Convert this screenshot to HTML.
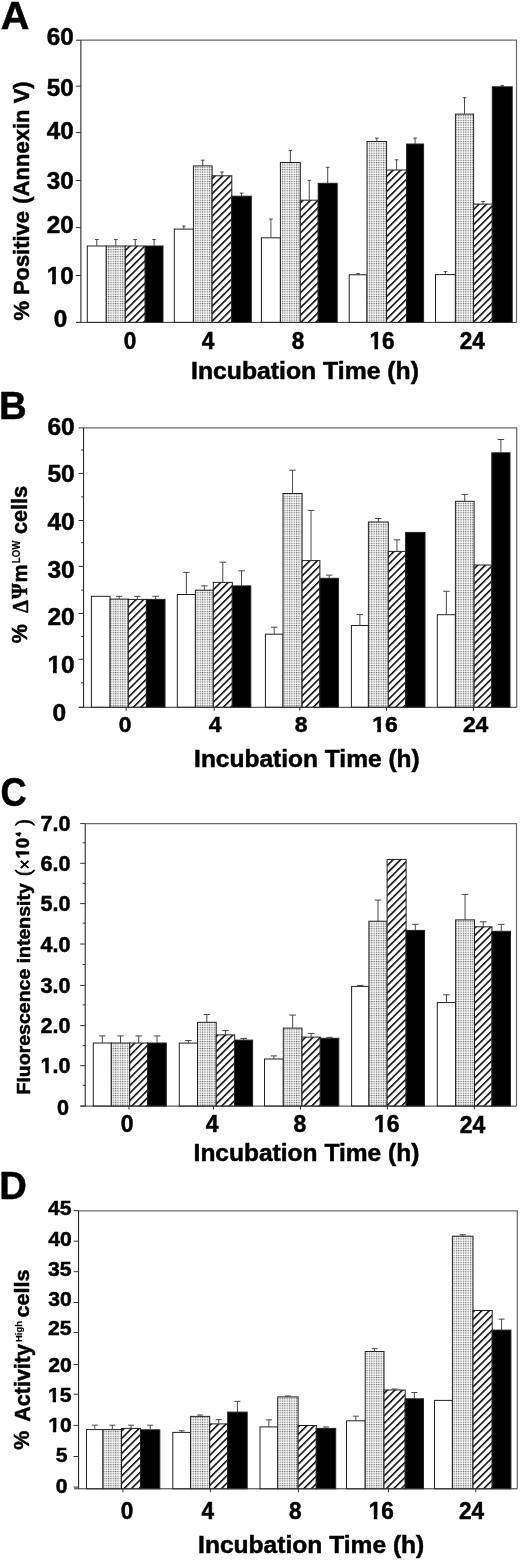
<!DOCTYPE html>
<html><head><meta charset="utf-8"><title>Figure</title><style>
html,body{margin:0;padding:0;background:#fff;}
body{width:520px;height:1560px;overflow:hidden;}
svg{display:block;filter:blur(0.45px);}
text{font-family:"Liberation Sans", sans-serif;font-weight:bold;fill:#000;stroke:#000;stroke-width:0.5px;}
.bar{stroke:#222;stroke-width:1;}
.err{stroke:#404040;stroke-width:0.95;fill:none;}
.ax{stroke:#333;stroke-width:1;fill:none;}
.axl{stroke:#151515;stroke-width:1;fill:none;}
.fr{stroke:#6a6a6a;stroke-width:1.2;fill:none;}
</style></head><body>
<svg width="520" height="1560" viewBox="0 0 520 1560">
<defs>
<pattern id="dots" patternUnits="userSpaceOnUse" width="2.35" height="2.35">
<rect width="2.35" height="2.35" fill="#ffffff"/>
<rect width="2.35" height="1" fill="#dedede"/>
<rect width="1" height="2.35" fill="#dedede"/>
<rect width="1" height="1" fill="#666666"/>
</pattern>
<pattern id="hatch" patternUnits="userSpaceOnUse" width="5.3" height="5.3" patternTransform="rotate(-45)">
<rect width="5.3" height="5.3" fill="#fff"/>
<rect width="5.3" height="1.5" fill="#000"/>
</pattern>
</defs>
<rect x="87.3" y="246" width="19" height="76.4" fill="#fff" class="bar"/>
<path d="M96.8 246V239.5M95 239.5H98.6" class="err"/>
<rect x="106.3" y="246" width="19" height="76.4" fill="url(#dots)" class="bar"/>
<path d="M115.8 246V239.5M114 239.5H117.6" class="err"/>
<rect x="125.3" y="246" width="19.9" height="76.4" fill="url(#hatch)" class="bar"/>
<path d="M135.25 246V239.5M133.45 239.5H137.05" class="err"/>
<rect x="145.2" y="246" width="17.8" height="76.4" fill="#000" class="bar"/>
<path d="M154.1 246V239.5M152.3 239.5H155.9" class="err"/>
<rect x="174.3" y="229.1" width="19.1" height="93.3" fill="#fff" class="bar"/>
<path d="M183.85 229.1V226M182.05 226H185.65" class="err"/>
<rect x="193.4" y="165.9" width="18.7" height="156.5" fill="url(#dots)" class="bar"/>
<path d="M202.75 165.9V160.2M200.95 160.2H204.55" class="err"/>
<rect x="212.1" y="175.8" width="19.7" height="146.6" fill="url(#hatch)" class="bar"/>
<path d="M221.95 175.8V172M220.15 172H223.75" class="err"/>
<rect x="231.8" y="196.2" width="19.5" height="126.2" fill="#000" class="bar"/>
<path d="M241.55 196.2V193.1M239.75 193.1H243.35" class="err"/>
<rect x="261.4" y="237.8" width="19" height="84.6" fill="#fff" class="bar"/>
<path d="M270.9 237.8V219.1M269.1 219.1H272.7" class="err"/>
<rect x="280.4" y="162.5" width="19.9" height="159.9" fill="url(#dots)" class="bar"/>
<path d="M290.35 162.5V150.4M288.55 150.4H292.15" class="err"/>
<rect x="300.3" y="200.2" width="17.9" height="122.2" fill="url(#hatch)" class="bar"/>
<path d="M309.25 200.2V180.3M307.45 180.3H311.05" class="err"/>
<rect x="318.2" y="183.3" width="19" height="139.1" fill="#000" class="bar"/>
<path d="M327.7 183.3V167.3M325.9 167.3H329.5" class="err"/>
<rect x="349.2" y="274.8" width="17.8" height="47.6" fill="#fff" class="bar"/>
<path d="M358.1 274.8V273.6M356.3 273.6H359.9" class="err"/>
<rect x="367" y="141.5" width="19.6" height="180.9" fill="url(#dots)" class="bar"/>
<path d="M376.8 141.5V138.1M375 138.1H378.6" class="err"/>
<rect x="386.6" y="170" width="20" height="152.4" fill="url(#hatch)" class="bar"/>
<path d="M396.6 170V159.8M394.8 159.8H398.4" class="err"/>
<rect x="406.6" y="144" width="17" height="178.4" fill="#000" class="bar"/>
<path d="M415.1 144V138.1M413.3 138.1H416.9" class="err"/>
<rect x="435.5" y="274.6" width="19.9" height="47.8" fill="#fff" class="bar"/>
<path d="M445.45 274.6V271.6M443.65 271.6H447.25" class="err"/>
<rect x="455.4" y="114.1" width="18.2" height="208.3" fill="url(#dots)" class="bar"/>
<path d="M464.5 114.1V97.7M462.7 97.7H466.3" class="err"/>
<rect x="473.6" y="204.1" width="18.7" height="118.3" fill="url(#hatch)" class="bar"/>
<path d="M482.95 204.1V201.5M481.15 201.5H484.75" class="err"/>
<rect x="492.3" y="86.8" width="19.9" height="235.6" fill="#000" class="bar"/>
<path d="M502.25 86.8V85.6M500.45 85.6H504.05" class="err"/>
<path d="M80.9 40.2H516.5V322.4" class="fr"/>
<path d="M80.9 322.4V40.2" class="axl"/>
<path d="M76.4 322.4H516.5" class="ax"/>
<path d="M75.9 322.4H80.9" class="ax"/>
<path d="M75.9 275.5H80.9" class="ax"/>
<path d="M75.9 227.6H80.9" class="ax"/>
<path d="M75.9 180.5H80.9" class="ax"/>
<path d="M75.9 132.6H80.9" class="ax"/>
<path d="M75.9 86.2H80.9" class="ax"/>
<path d="M75.9 40.2H80.9" class="ax"/>
<rect x="91.4" y="596.3" width="18.7" height="111" fill="#fff" class="bar"/>
<rect x="110.1" y="599.1" width="18.2" height="108.2" fill="url(#dots)" class="bar"/>
<path d="M119.2 599.1V596.3M115.95 596.3H122.45" class="err"/>
<rect x="128.3" y="599.4" width="18.1" height="107.9" fill="url(#hatch)" class="bar"/>
<path d="M137.35 599.4V596.3M134.1 596.3H140.6" class="err"/>
<rect x="146.4" y="599.4" width="18.6" height="107.9" fill="#000" class="bar"/>
<path d="M155.7 599.4V596.3M152.45 596.3H158.95" class="err"/>
<rect x="177.3" y="594.5" width="18.1" height="112.8" fill="#fff" class="bar"/>
<path d="M186.35 594.5V572.4M183.1 572.4H189.6" class="err"/>
<rect x="195.4" y="590.2" width="17.9" height="117.1" fill="url(#dots)" class="bar"/>
<path d="M204.35 590.2V585.9M201.1 585.9H207.6" class="err"/>
<rect x="213.3" y="582.4" width="19" height="124.9" fill="url(#hatch)" class="bar"/>
<path d="M222.8 582.4V562.2M219.55 562.2H226.05" class="err"/>
<rect x="232.3" y="585.9" width="18.5" height="121.4" fill="#000" class="bar"/>
<path d="M241.55 585.9V570.8M238.3 570.8H244.8" class="err"/>
<rect x="265.4" y="634.2" width="17.6" height="73.1" fill="#fff" class="bar"/>
<path d="M274.2 634.2V627.2M270.95 627.2H277.45" class="err"/>
<rect x="283" y="493.5" width="19.1" height="213.8" fill="url(#dots)" class="bar"/>
<path d="M292.55 493.5V470.2M289.3 470.2H295.8" class="err"/>
<rect x="302.1" y="560.6" width="17.8" height="146.7" fill="url(#hatch)" class="bar"/>
<path d="M311 560.6V510.4M307.75 510.4H314.25" class="err"/>
<rect x="319.9" y="578.3" width="18.5" height="129" fill="#000" class="bar"/>
<path d="M329.15 578.3V575.1M325.9 575.1H332.4" class="err"/>
<rect x="351.4" y="625.5" width="17" height="81.8" fill="#fff" class="bar"/>
<path d="M359.9 625.5V614.6M356.65 614.6H363.15" class="err"/>
<rect x="368.4" y="522" width="19.9" height="185.3" fill="url(#dots)" class="bar"/>
<path d="M378.35 522V518.5M375.1 518.5H381.6" class="err"/>
<rect x="388.3" y="551.4" width="17.3" height="155.9" fill="url(#hatch)" class="bar"/>
<path d="M396.95 551.4V539.8M393.7 539.8H400.2" class="err"/>
<rect x="405.6" y="532.4" width="19.4" height="174.9" fill="#000" class="bar"/>
<rect x="437.3" y="614.7" width="18.1" height="92.6" fill="#fff" class="bar"/>
<path d="M446.35 614.7V591.3M443.1 591.3H449.6" class="err"/>
<rect x="455.4" y="501.3" width="18.7" height="206" fill="url(#dots)" class="bar"/>
<path d="M464.75 501.3V494.4M461.5 494.4H468" class="err"/>
<rect x="474.1" y="565" width="17.7" height="142.3" fill="url(#hatch)" class="bar"/>
<rect x="491.8" y="452.8" width="18.2" height="254.5" fill="#000" class="bar"/>
<path d="M500.9 452.8V439.5M497.65 439.5H504.15" class="err"/>
<path d="M83.6 427.9H516.7V707.3" class="fr"/>
<path d="M83.6 707.3V427.9" class="axl"/>
<path d="M79.1 707.3H516.7" class="ax"/>
<path d="M78.6 707.3H83.6" class="ax"/>
<path d="M78.6 659.3H83.6" class="ax"/>
<path d="M78.6 613.5H83.6" class="ax"/>
<path d="M78.6 566.4H83.6" class="ax"/>
<path d="M78.6 520.5H83.6" class="ax"/>
<path d="M78.6 473.4H83.6" class="ax"/>
<path d="M78.6 427.9H83.6" class="ax"/>
<path d="M81.1 682.8H83.6" class="ax"/>
<path d="M81.1 636.4H83.6" class="ax"/>
<path d="M81.1 590.1H83.6" class="ax"/>
<path d="M81.1 542.7H83.6" class="ax"/>
<path d="M81.1 496.9H83.6" class="ax"/>
<path d="M81.1 450H83.6" class="ax"/>
<path d="M126.2 707.3V710.8" class="ax"/>
<path d="M214.2 707.3V710.8" class="ax"/>
<path d="M299.8 707.3V710.8" class="ax"/>
<path d="M386.5 707.3V710.8" class="ax"/>
<path d="M473.5 707.3V710.8" class="ax"/>
<rect x="93.3" y="1043" width="18" height="63.1" fill="#fff" class="bar"/>
<path d="M102.3 1043V1035.9M99.05 1035.9H105.55" class="err"/>
<rect x="111.3" y="1043" width="18.4" height="63.1" fill="url(#dots)" class="bar"/>
<path d="M120.5 1043V1035.9M117.25 1035.9H123.75" class="err"/>
<rect x="129.7" y="1043" width="18" height="63.1" fill="url(#hatch)" class="bar"/>
<path d="M138.7 1043V1035.9M135.45 1035.9H141.95" class="err"/>
<rect x="147.7" y="1043" width="18.6" height="63.1" fill="#000" class="bar"/>
<path d="M157 1043V1035.9M153.75 1035.9H160.25" class="err"/>
<rect x="179.3" y="1043.1" width="18.2" height="63" fill="#fff" class="bar"/>
<path d="M188.4 1043.1V1040.5M185.15 1040.5H191.65" class="err"/>
<rect x="197.5" y="1022.3" width="18.7" height="83.8" fill="url(#dots)" class="bar"/>
<path d="M206.85 1022.3V1014.5M203.6 1014.5H210.1" class="err"/>
<rect x="216.2" y="1034.9" width="18.5" height="71.2" fill="url(#hatch)" class="bar"/>
<path d="M225.45 1034.9V1030.6M222.2 1030.6H228.7" class="err"/>
<rect x="234.7" y="1040.1" width="17.9" height="66" fill="#000" class="bar"/>
<path d="M243.65 1040.1V1038.4M240.4 1038.4H246.9" class="err"/>
<rect x="264.5" y="1059" width="18.8" height="47.1" fill="#fff" class="bar"/>
<path d="M273.9 1059V1055.9M270.65 1055.9H277.15" class="err"/>
<rect x="283.3" y="1028.1" width="18.7" height="78" fill="url(#dots)" class="bar"/>
<path d="M292.65 1028.1V1015.1M289.4 1015.1H295.9" class="err"/>
<rect x="302" y="1037.1" width="18.3" height="69" fill="url(#hatch)" class="bar"/>
<path d="M311.15 1037.1V1033.4M307.9 1033.4H314.4" class="err"/>
<rect x="320.3" y="1038.3" width="18.5" height="67.8" fill="#000" class="bar"/>
<path d="M329.55 1038.3V1037.3M326.3 1037.3H332.8" class="err"/>
<rect x="351.6" y="986.4" width="17.3" height="119.7" fill="#fff" class="bar"/>
<path d="M360.25 986.4V985.4M357 985.4H363.5" class="err"/>
<rect x="368.9" y="921.2" width="18.2" height="184.9" fill="url(#dots)" class="bar"/>
<path d="M378 921.2V900.1M374.75 900.1H381.25" class="err"/>
<rect x="387.1" y="859.4" width="19" height="246.7" fill="url(#hatch)" class="bar"/>
<rect x="406.1" y="930.4" width="18.4" height="175.7" fill="#000" class="bar"/>
<path d="M415.3 930.4V924.3M412.05 924.3H418.55" class="err"/>
<rect x="437.3" y="1002.6" width="18.3" height="103.5" fill="#fff" class="bar"/>
<path d="M446.45 1002.6V994.8M443.2 994.8H449.7" class="err"/>
<rect x="455.6" y="919.9" width="18.9" height="186.2" fill="url(#dots)" class="bar"/>
<path d="M465.05 919.9V894.4M461.8 894.4H468.3" class="err"/>
<rect x="474.5" y="926.8" width="17.5" height="179.3" fill="url(#hatch)" class="bar"/>
<path d="M483.25 926.8V921.8M480 921.8H486.5" class="err"/>
<rect x="492" y="931.3" width="18.5" height="174.8" fill="#000" class="bar"/>
<path d="M501.25 931.3V924.4M498 924.4H504.5" class="err"/>
<path d="M85.2 823.6H516.5V1106.1" class="fr"/>
<path d="M85.2 1106.1V823.6" class="axl"/>
<path d="M80.7 1106.1H516.5" class="ax"/>
<path d="M80.2 1106.1H85.2" class="ax"/>
<path d="M80.2 1065.7H85.2" class="ax"/>
<path d="M80.2 1025.6H85.2" class="ax"/>
<path d="M80.2 985.4H85.2" class="ax"/>
<path d="M80.2 944H85.2" class="ax"/>
<path d="M80.2 903.6H85.2" class="ax"/>
<path d="M80.2 863.3H85.2" class="ax"/>
<path d="M80.2 823.6H85.2" class="ax"/>
<path d="M82.7 1085.3H85.2" class="ax"/>
<path d="M82.7 1045.6H85.2" class="ax"/>
<path d="M82.7 1004.9H85.2" class="ax"/>
<path d="M82.7 964.5H85.2" class="ax"/>
<path d="M82.7 923.1H85.2" class="ax"/>
<path d="M82.7 883.4H85.2" class="ax"/>
<path d="M82.7 842.8H85.2" class="ax"/>
<path d="M128.9 1106.1V1109.6" class="ax"/>
<path d="M213.5 1106.1V1109.6" class="ax"/>
<path d="M300.5 1106.1V1109.6" class="ax"/>
<path d="M387.4 1106.1V1109.6" class="ax"/>
<path d="M474.3 1106.1V1109.6" class="ax"/>
<rect x="86.5" y="1429.6" width="16.5" height="59.2" fill="#fff" class="bar"/>
<path d="M94.75 1429.6V1425.2M91.75 1425.2H97.75" class="err"/>
<rect x="103" y="1429.6" width="18.5" height="59.2" fill="url(#dots)" class="bar"/>
<path d="M112.25 1429.6V1425.2M109.25 1425.2H115.25" class="err"/>
<rect x="121.5" y="1428.4" width="19.1" height="60.4" fill="url(#hatch)" class="bar"/>
<path d="M131.05 1428.4V1425.2M128.05 1425.2H134.05" class="err"/>
<rect x="140.6" y="1429.8" width="19.2" height="59" fill="#000" class="bar"/>
<path d="M150.2 1429.8V1425.2M147.2 1425.2H153.2" class="err"/>
<rect x="172.8" y="1432.4" width="17.8" height="56.4" fill="#fff" class="bar"/>
<path d="M181.7 1432.4V1430.8M178.7 1430.8H184.7" class="err"/>
<rect x="190.6" y="1416.4" width="19.1" height="72.4" fill="url(#dots)" class="bar"/>
<path d="M200.15 1416.4V1415M197.15 1415H203.15" class="err"/>
<rect x="209.7" y="1423.9" width="18" height="64.9" fill="url(#hatch)" class="bar"/>
<path d="M218.7 1423.9V1419.6M215.7 1419.6H221.7" class="err"/>
<rect x="227.7" y="1412.1" width="19.5" height="76.7" fill="#000" class="bar"/>
<path d="M237.45 1412.1V1401.4M234.45 1401.4H240.45" class="err"/>
<rect x="260" y="1426.9" width="17.7" height="61.9" fill="#fff" class="bar"/>
<path d="M268.85 1426.9V1419.8M265.85 1419.8H271.85" class="err"/>
<rect x="277.7" y="1396.9" width="20.4" height="91.9" fill="url(#dots)" class="bar"/>
<path d="M287.9 1396.9V1396M284.9 1396H290.9" class="err"/>
<rect x="298.1" y="1425.5" width="18.2" height="63.3" fill="url(#hatch)" class="bar"/>
<rect x="316.3" y="1428.4" width="19.4" height="60.4" fill="#000" class="bar"/>
<path d="M326 1428.4V1427M323 1427H329" class="err"/>
<rect x="346.5" y="1420.8" width="18.7" height="68" fill="#fff" class="bar"/>
<path d="M355.85 1420.8V1416.2M352.85 1416.2H358.85" class="err"/>
<rect x="365.2" y="1351.5" width="18.8" height="137.3" fill="url(#dots)" class="bar"/>
<path d="M374.6 1351.5V1348.7M371.6 1348.7H377.6" class="err"/>
<rect x="384" y="1390" width="21.2" height="98.8" fill="url(#hatch)" class="bar"/>
<path d="M394.6 1390V1389M391.6 1389H397.6" class="err"/>
<rect x="405.2" y="1398.8" width="18.3" height="90" fill="#000" class="bar"/>
<path d="M414.35 1398.8V1392.5M411.35 1392.5H417.35" class="err"/>
<rect x="434.5" y="1400.4" width="17.9" height="88.4" fill="#fff" class="bar"/>
<rect x="452.4" y="1236.2" width="20.6" height="252.6" fill="url(#dots)" class="bar"/>
<path d="M462.7 1236.2V1234.7M459.7 1234.7H465.7" class="err"/>
<rect x="473" y="1310.5" width="19.2" height="178.3" fill="url(#hatch)" class="bar"/>
<rect x="492.2" y="1330.1" width="18.7" height="158.7" fill="#000" class="bar"/>
<path d="M501.55 1330.1V1319.1M498.55 1319.1H504.55" class="err"/>
<path d="M78.6 1210.8H517.3V1488.8" class="fr"/>
<path d="M78.6 1488.8V1210.8" class="axl"/>
<path d="M74.1 1488.8H517.3" class="ax"/>
<path d="M73.6 1487.1H78.6" class="ax"/>
<path d="M73.6 1456.5H78.6" class="ax"/>
<path d="M73.6 1425.4H78.6" class="ax"/>
<path d="M73.6 1394.2H78.6" class="ax"/>
<path d="M73.6 1364.5H78.6" class="ax"/>
<path d="M73.6 1332.5H78.6" class="ax"/>
<path d="M73.6 1302.5H78.6" class="ax"/>
<path d="M73.6 1271.7H78.6" class="ax"/>
<path d="M73.6 1241.2H78.6" class="ax"/>
<path d="M73.6 1210.6H78.6" class="ax"/>
<path d="M122.9 1488.8V1492.3" class="ax"/>
<path d="M210.4 1488.8V1492.3" class="ax"/>
<path d="M298.5 1488.8V1492.3" class="ax"/>
<path d="M388.5 1488.8V1492.3" class="ax"/>
<path d="M475.8 1488.8V1492.3" class="ax"/>
<text x="0.71" y="29.30" style="font-size:39.71px" textLength="28.67" lengthAdjust="spacingAndGlyphs">A</text>
<text x="-0.99" y="418.70" style="font-size:39.42px" textLength="27.70" lengthAdjust="spacingAndGlyphs">B</text>
<text x="0.45" y="806.00" style="font-size:40.00px" textLength="26.22" lengthAdjust="spacingAndGlyphs">C</text>
<text x="-0.67" y="1199.10" style="font-size:39.71px" textLength="27.59" lengthAdjust="spacingAndGlyphs">D</text>
<text x="46.67" y="44.77" style="font-size:23.10px" textLength="26.95" lengthAdjust="spacingAndGlyphs">60</text>
<text x="46.67" y="95.87" style="font-size:23.10px" textLength="26.95" lengthAdjust="spacingAndGlyphs">50</text>
<text x="46.67" y="139.02" style="font-size:23.10px" textLength="26.95" lengthAdjust="spacingAndGlyphs">40</text>
<text x="46.67" y="189.42" style="font-size:23.10px" textLength="26.95" lengthAdjust="spacingAndGlyphs">30</text>
<text x="46.67" y="232.87" style="font-size:23.10px" textLength="26.95" lengthAdjust="spacingAndGlyphs">20</text>
<text x="46.67" y="283.52" style="font-size:23.10px" textLength="26.95" lengthAdjust="spacingAndGlyphs">10</text><rect x="46.51" y="279.64" width="5.56" height="5.53" fill="#fff"/><rect x="55.82" y="279.64" width="4.72" height="5.53" fill="#fff"/>
<text x="53.84" y="327.02" style="font-size:23.10px" textLength="13.48" lengthAdjust="spacingAndGlyphs">0</text>
<text x="47.46" y="435.16" style="font-size:23.52px" textLength="27.27" lengthAdjust="spacingAndGlyphs">60</text>
<text x="47.46" y="482.36" style="font-size:23.52px" textLength="27.27" lengthAdjust="spacingAndGlyphs">50</text>
<text x="47.46" y="530.46" style="font-size:23.52px" textLength="27.27" lengthAdjust="spacingAndGlyphs">40</text>
<text x="47.46" y="577.76" style="font-size:23.52px" textLength="27.27" lengthAdjust="spacingAndGlyphs">30</text>
<text x="47.46" y="625.31" style="font-size:23.52px" textLength="27.27" lengthAdjust="spacingAndGlyphs">20</text>
<text x="47.46" y="672.81" style="font-size:23.52px" textLength="27.27" lengthAdjust="spacingAndGlyphs">10</text><rect x="47.31" y="668.89" width="5.61" height="5.58" fill="#fff"/><rect x="56.71" y="668.89" width="4.77" height="5.58" fill="#fff"/>
<text x="52.46" y="720.71" style="font-size:23.52px" textLength="13.64" lengthAdjust="spacingAndGlyphs">0</text>
<text x="40.54" y="1073.34" style="font-size:21.27px" textLength="30.03" lengthAdjust="spacingAndGlyphs">1.0</text><rect x="40.22" y="1069.68" width="5.09" height="5.31" fill="#fff"/><rect x="48.72" y="1069.68" width="4.27" height="5.31" fill="#fff"/>
<text x="40.54" y="1033.24" style="font-size:21.27px" textLength="30.03" lengthAdjust="spacingAndGlyphs">2.0</text>
<text x="40.54" y="993.04" style="font-size:21.27px" textLength="30.03" lengthAdjust="spacingAndGlyphs">3.0</text>
<text x="40.54" y="951.64" style="font-size:21.27px" textLength="30.03" lengthAdjust="spacingAndGlyphs">4.0</text>
<text x="40.54" y="911.24" style="font-size:21.27px" textLength="30.03" lengthAdjust="spacingAndGlyphs">5.0</text>
<text x="40.54" y="870.94" style="font-size:21.27px" textLength="30.03" lengthAdjust="spacingAndGlyphs">6.0</text>
<text x="40.54" y="831.24" style="font-size:21.27px" textLength="30.03" lengthAdjust="spacingAndGlyphs">7.0</text>
<text x="56.96" y="1114.69" style="font-size:21.27px" textLength="12.02" lengthAdjust="spacingAndGlyphs">0</text>
<text x="47.98" y="1214.79" style="font-size:20.57px" textLength="23.51" lengthAdjust="spacingAndGlyphs">45</text>
<text x="48.19" y="1245.60" style="font-size:20.57px" textLength="23.51" lengthAdjust="spacingAndGlyphs">40</text>
<text x="47.98" y="1275.55" style="font-size:20.57px" textLength="23.51" lengthAdjust="spacingAndGlyphs">35</text>
<text x="48.19" y="1305.60" style="font-size:20.57px" textLength="23.51" lengthAdjust="spacingAndGlyphs">30</text>
<text x="47.98" y="1335.40" style="font-size:20.57px" textLength="23.51" lengthAdjust="spacingAndGlyphs">25</text>
<text x="48.19" y="1371.90" style="font-size:20.57px" textLength="23.51" lengthAdjust="spacingAndGlyphs">20</text>
<text x="47.98" y="1401.79" style="font-size:20.57px" textLength="23.51" lengthAdjust="spacingAndGlyphs">15</text><rect x="47.64" y="1398.22" width="5.00" height="5.23" fill="#fff"/><rect x="55.99" y="1398.22" width="4.19" height="5.23" fill="#fff"/>
<text x="48.19" y="1432.20" style="font-size:20.57px" textLength="23.51" lengthAdjust="spacingAndGlyphs">10</text><rect x="47.85" y="1428.62" width="5.00" height="5.23" fill="#fff"/><rect x="56.20" y="1428.62" width="4.19" height="5.23" fill="#fff"/>
<text x="55.73" y="1462.09" style="font-size:20.57px" textLength="11.75" lengthAdjust="spacingAndGlyphs">5</text>
<text x="55.84" y="1492.75" style="font-size:20.57px" textLength="11.75" lengthAdjust="spacingAndGlyphs">0</text>
<text x="123.79" y="349.29" style="font-size:23.00px" textLength="12.57" lengthAdjust="spacingAndGlyphs">0</text>
<text x="201.76" y="349.29" style="font-size:23.00px" textLength="12.57" lengthAdjust="spacingAndGlyphs">4</text>
<text x="291.77" y="349.29" style="font-size:23.00px" textLength="12.57" lengthAdjust="spacingAndGlyphs">8</text>
<text x="369.39" y="349.29" style="font-size:23.00px" textLength="25.13" lengthAdjust="spacingAndGlyphs">16</text><rect x="369.13" y="345.42" width="5.27" height="5.51" fill="#fff"/><rect x="377.93" y="345.42" width="4.44" height="5.51" fill="#fff"/>
<text x="459.82" y="349.40" style="font-size:23.00px" textLength="25.13" lengthAdjust="spacingAndGlyphs">24</text>
<text x="118.81" y="731.89" style="font-size:22.86px" textLength="12.72" lengthAdjust="spacingAndGlyphs">0</text>
<text x="208.73" y="731.89" style="font-size:22.86px" textLength="12.72" lengthAdjust="spacingAndGlyphs">4</text>
<text x="294.75" y="731.89" style="font-size:22.86px" textLength="12.72" lengthAdjust="spacingAndGlyphs">8</text>
<text x="372.23" y="731.89" style="font-size:22.86px" textLength="25.44" lengthAdjust="spacingAndGlyphs">16</text><rect x="371.99" y="728.04" width="5.32" height="5.50" fill="#fff"/><rect x="380.88" y="728.04" width="4.49" height="5.50" fill="#fff"/>
<text x="462.91" y="732.00" style="font-size:22.86px" textLength="25.44" lengthAdjust="spacingAndGlyphs">24</text>
<text x="120.84" y="1132.38" style="font-size:23.29px" textLength="12.77" lengthAdjust="spacingAndGlyphs">0</text>
<text x="205.86" y="1132.38" style="font-size:23.29px" textLength="12.77" lengthAdjust="spacingAndGlyphs">4</text>
<text x="293.47" y="1132.38" style="font-size:23.29px" textLength="12.77" lengthAdjust="spacingAndGlyphs">8</text>
<text x="374.08" y="1132.38" style="font-size:23.29px" textLength="25.54" lengthAdjust="spacingAndGlyphs">16</text><rect x="373.84" y="1128.49" width="5.33" height="5.55" fill="#fff"/><rect x="382.76" y="1128.49" width="4.50" height="5.55" fill="#fff"/>
<text x="459.81" y="1132.50" style="font-size:23.29px" textLength="25.54" lengthAdjust="spacingAndGlyphs">24</text>
<text x="120.84" y="1519.28" style="font-size:24.14px" textLength="12.57" lengthAdjust="spacingAndGlyphs">0</text>
<text x="201.56" y="1519.28" style="font-size:24.14px" textLength="12.57" lengthAdjust="spacingAndGlyphs">4</text>
<text x="289.02" y="1519.28" style="font-size:24.14px" textLength="12.57" lengthAdjust="spacingAndGlyphs">8</text>
<text x="368.79" y="1519.28" style="font-size:24.14px" textLength="25.13" lengthAdjust="spacingAndGlyphs">16</text><rect x="368.53" y="1515.28" width="5.27" height="5.65" fill="#fff"/><rect x="377.33" y="1515.28" width="4.44" height="5.65" fill="#fff"/>
<text x="459.02" y="1519.40" style="font-size:24.14px" textLength="25.13" lengthAdjust="spacingAndGlyphs">24</text>
<text x="191.07" y="379.01" style="font-size:23.30px" textLength="227.86" lengthAdjust="spacingAndGlyphs">Incubation Time (h)</text>
<text x="194.08" y="767.26" style="font-size:23.51px" textLength="225.63" lengthAdjust="spacingAndGlyphs">Incubation Time (h)</text>
<text x="193.58" y="1160.86" style="font-size:23.51px" textLength="225.74" lengthAdjust="spacingAndGlyphs">Incubation Time (h)</text>
<text x="198.08" y="1553.22" style="font-size:23.72px" textLength="226.24" lengthAdjust="spacingAndGlyphs">Incubation Time (h)</text>
<g transform="translate(29.18,320.56) rotate(-90)"><text x="0" y="0" style="font-size:21.62px" textLength="109.46" lengthAdjust="spacingAndGlyphs">% Positive</text></g>
<g transform="translate(28.91,203.80) rotate(-90)"><text x="0" y="0" style="font-size:21.38px" textLength="122.51" lengthAdjust="spacingAndGlyphs">(Annexin V)</text></g>
<g transform="translate(27.38,643.25) rotate(-90)"><text x="0" y="0" style="font-size:22.29px" textLength="19.18" lengthAdjust="spacingAndGlyphs">%</text></g>
<g transform="translate(27.60,612.70) rotate(-90)"><text x="0" y="0" style="font-size:22.42px;font-family:'Liberation Serif',serif;font-weight:bold" textLength="12.54" lengthAdjust="spacingAndGlyphs">Δ</text></g>
<g transform="translate(27.30,599.10) rotate(-90)"><text x="0" y="0" style="font-size:22.46px;font-family:'Liberation Serif',serif;font-weight:bold" textLength="15.70" lengthAdjust="spacingAndGlyphs">Ψ</text></g>
<g transform="translate(27.00,582.43) rotate(-90)"><text x="0" y="0" style="font-size:20.56px" textLength="18.14" lengthAdjust="spacingAndGlyphs">m</text></g>
<g transform="translate(19.70,563.18) rotate(-90)"><text x="0" y="0" style="font-size:10.00px;stroke-width:0.15px" textLength="22.50" lengthAdjust="spacingAndGlyphs">LOW</text></g>
<g transform="translate(27.39,534.07) rotate(-90)"><text x="0" y="0" style="font-size:21.35px" textLength="48.12" lengthAdjust="spacingAndGlyphs">cells</text></g>
<g transform="translate(29.87,1094.46) rotate(-90)"><text x="0" y="0" style="font-size:18.72px" textLength="211.30" lengthAdjust="spacingAndGlyphs">Fluorescence intensity</text></g>
<g transform="translate(29.51,875.84) rotate(-90)"><text x="0" y="0" style="font-size:20.44px;font-family:'Liberation Serif',serif;font-weight:normal;stroke-width:0.9px" textLength="6.15" lengthAdjust="spacingAndGlyphs">(</text></g>
<g transform="translate(31.40,869.62) rotate(-90)"><text x="0" y="0" style="font-size:19.25px;font-family:'Liberation Serif',serif;font-weight:normal;stroke-width:0.8px" textLength="10.01" lengthAdjust="spacingAndGlyphs">×</text></g>
<g transform="translate(28.92,858.62) rotate(-90)"><text x="0" y="0" style="font-size:17.61px" textLength="20.82" lengthAdjust="spacingAndGlyphs">10</text><rect x="-0.47" y="-3.23" width="4.57" height="4.88" fill="#fff"/><rect x="7.13" y="-3.23" width="3.78" height="4.88" fill="#fff"/></g>
<g transform="translate(21.30,836.24) rotate(-90)"><text x="0" y="0" style="font-size:8.12px;stroke-width:0.8px" textLength="3.78" lengthAdjust="spacingAndGlyphs">4</text></g>
<g transform="translate(29.51,825.75) rotate(-90)"><text x="0" y="0" style="font-size:20.44px;font-family:'Liberation Serif',serif;font-weight:normal;stroke-width:0.9px" textLength="6.15" lengthAdjust="spacingAndGlyphs">)</text></g>
<g transform="translate(29.48,1449.64) rotate(-90)"><text x="0" y="0" style="font-size:22.43px" textLength="18.96" lengthAdjust="spacingAndGlyphs">%</text></g>
<g transform="translate(29.76,1421.64) rotate(-90)"><text x="0" y="0" style="font-size:21.60px" textLength="77.51" lengthAdjust="spacingAndGlyphs">Activity</text></g>
<g transform="translate(22.23,1341.96) rotate(-90)"><text x="0" y="0" style="font-size:9.36px;stroke-width:0.15px" textLength="20.94" lengthAdjust="spacingAndGlyphs">High</text></g>
<g transform="translate(29.49,1317.47) rotate(-90)"><text x="0" y="0" style="font-size:20.81px" textLength="48.12" lengthAdjust="spacingAndGlyphs">cells</text></g>
</svg>
</body></html>
